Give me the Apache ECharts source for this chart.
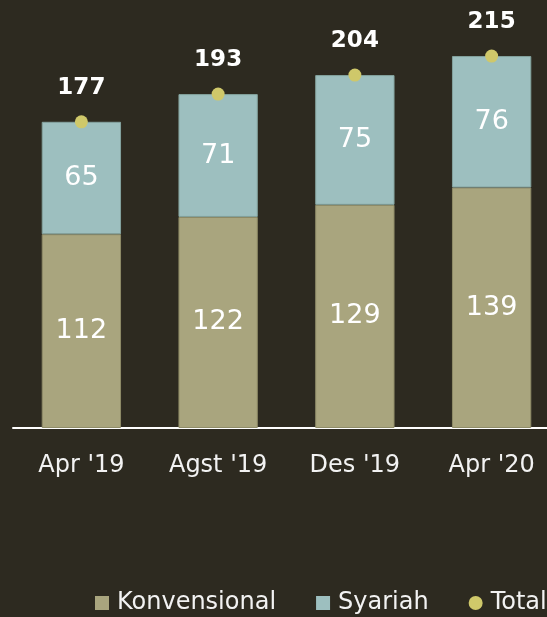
<!DOCTYPE html>
<html>
<head>
<meta charset="utf-8">
<script src="https://cdn.jsdelivr.net/npm/echarts@6/dist/echarts.min.js"></script>
<style>
  html, body { margin: 0; padding: 0; background: #2d2a20; }
  #chart { width: 547px; height: 617px; }
</style>
</head>
<body>
<div id="chart"></div>
<script>
// 数据
const categories = ["Apr '19", "Agst '19", "Des '19", "Apr '20"];
const konvensional = [112, 122, 129, 139];
const syariah = [65, 71, 75, 76];
const total = [177, 193, 204, 215];

const chart = echarts.init(document.getElementById('chart'));
const font = '"DejaVu Sans", sans-serif';

const option = {
  backgroundColor: '#2d2a20',
  animation: false,
  grid: {
    left: 13,
    width: 547,
    top: 12.8,
    bottom: 189,
    containLabel: false,
    outerBoundsMode: 'none'
  },
  legend: {
    left: 90,
    bottom: -3,
    width: 600,
    itemWidth: 14,
    itemHeight: 14,
    itemGap: 40,
    itemStyle: { borderWidth: 0 },
    textStyle: { color: '#f2f2f2', fontSize: 24, fontFamily: font, padding: [0, 0, 0, 3] },
    data: [
      { name: 'Konvensional', icon: 'rect' },
      { name: 'Syariah', icon: 'rect' },
      { name: 'Total', icon: 'circle' }
    ]
  },
  xAxis: {
    type: 'category',
    data: categories,
    axisLine: { lineStyle: { color: '#ffffff', width: 2 } },
    axisTick: { show: false },
    axisLabel: { color: '#f2f2f2', fontSize: 24, fontFamily: font, margin: 26 }
  },
  yAxis: {
    type: 'value',
    min: 0,
    max: 240,
    show: false,
    splitLine: { show: false }
  },
  series: [
    {
      name: 'Konvensional',
      type: 'bar',
      stack: 'a',
      barWidth: '58%',
      data: konvensional,
      itemStyle: { color: '#a9a57e', borderColor: '#8f8c68', borderWidth: 1 },
      label: {
        show: true,
        position: 'inside',
        color: '#ffffff',
        fontSize: 27,
        fontFamily: font
      }
    },
    {
      name: 'Syariah',
      type: 'bar',
      stack: 'a',
      data: syariah,
      itemStyle: { color: '#9dbfbf', borderColor: '#84a39e', borderWidth: 1 },
      label: {
        show: true,
        position: 'inside',
        color: '#ffffff',
        fontSize: 27,
        fontFamily: font
      }
    },
    {
      name: 'Total',
      type: 'scatter',
      data: total,
      symbol: 'circle',
      symbolSize: 13,
      z: 5,
      itemStyle: { color: '#cfc86a', opacity: 1 },
      label: {
        show: true,
        position: 'top',
        distance: 16,
        color: '#ffffff',
        fontSize: 23,
        fontWeight: 'bold',
        fontFamily: font
      }
    }
  ]
};
chart.setOption(option);
</script>
</body>
</html>
